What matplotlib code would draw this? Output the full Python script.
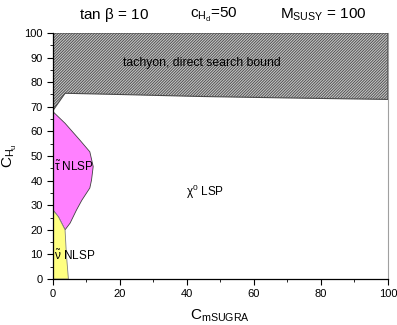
import matplotlib.pyplot as plt
from matplotlib.ticker import MultipleLocator

plt.rcParams["font.family"] = ["Liberation Sans", "DejaVu Sans"]
plt.rcParams["mathtext.fontset"] = "custom"
plt.rcParams["mathtext.rm"] = "Liberation Sans"
plt.rcParams["mathtext.it"] = "Liberation Sans"
plt.rcParams["mathtext.default"] = "regular"
plt.rcParams["hatch.linewidth"] = 0.6

# region boundaries (c_mSUGRA, c_Hu)
tachyon_x = [0, 0, 3.6, 20, 44, 70, 100, 100]
tachyon_y = [100, 68.5, 75.5, 75.0, 74.2, 73.6, 73.0, 100]

stau_x = [0, 3.6, 8.0, 11.0, 12.0, 11.5, 11.0, 8.6, 7.0, 5.1, 3.6, 1.6, 0]
stau_y = [68, 63.3, 56.5, 51.7, 45.7, 40.2, 37.0, 32.0, 28.0, 22.7, 20.0, 25.3, 28]

sneu_x = [0, 0, 4.6, 4.0, 3.6, 1.6, 0]
sneu_y = [28, 0, 0, 10.0, 20.0, 25.3, 28]

fig = plt.figure(figsize=(3.97, 3.25), dpi=100)
ax = fig.add_axes([0.1335, 0.1415, 0.8435, 0.757])

ax.fill(tachyon_x, tachyon_y, facecolor="#c4c4c4", edgecolor="#4a4a4a",
        hatch="////////////", linewidth=0.8, zorder=2)
ax.fill(stau_x, stau_y, facecolor="#ff80ff", edgecolor="#404040", linewidth=0.6, zorder=2)
ax.fill(sneu_x, sneu_y, facecolor="#ffff80", edgecolor="#808080", linewidth=0.6, zorder=2)

ax.text(44.5, 88, "tachyon, direct search bound", fontsize=8.8, ha="center", va="center", zorder=3)
ax.text(45.5, 35.5, r"$\chi^0$ LSP", fontsize=8.5, ha="center", va="center")
ax.text(0.3, 45.5, r"$\tilde{\tau}$ NLSP", fontsize=8.5, ha="left", va="center", zorder=3)
ax.text(0.3, 9.5, r"$\tilde{\nu}$ NLSP", fontsize=8.5, ha="left", va="center", zorder=3)

fig.text(0.288, 0.955, r"tan $\beta$ = 10", fontsize=11, ha="center", va="center")
fig.text(0.539, 0.955, r"c$_{H_d}$=50", fontsize=11, ha="center", va="center")
fig.text(0.814, 0.955, r"M$_{SUSY}$ = 100", fontsize=11, ha="center", va="center")

ax.set_xlim(0, 100)
ax.set_ylim(0, 100)
ax.xaxis.set_major_locator(MultipleLocator(20))
ax.xaxis.set_minor_locator(MultipleLocator(10))
ax.yaxis.set_major_locator(MultipleLocator(10))
ax.yaxis.set_minor_locator(MultipleLocator(5))
ax.tick_params(which="major", direction="out", length=4, width=0.8, labelsize=8)
ax.tick_params(which="minor", direction="out", length=2, width=0.6)

ax.spines["top"].set_visible(False)
ax.spines["right"].set_color("#a0a0a0")
ax.spines["left"].set_linewidth(0.9)
ax.spines["bottom"].set_linewidth(0.9)

ax.set_xlabel(r"C$_{mSUGRA}$", fontsize=11, labelpad=6)
ax.set_ylabel(r"C$_{H_u}$", fontsize=11)

fig.savefig("out.png", dpi=100)
